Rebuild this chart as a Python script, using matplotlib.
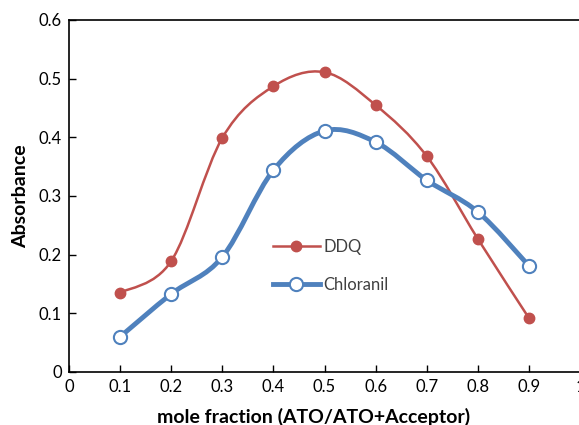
import numpy as np
import matplotlib
matplotlib.use("Agg")
import matplotlib.pyplot as plt
from matplotlib.path import Path
from matplotlib.patches import PathPatch
from matplotlib.lines import Line2D

mole_fraction = [0.1, 0.2, 0.3, 0.4, 0.5, 0.6, 0.7, 0.8, 0.9]
ddq = [0.135, 0.189, 0.399, 0.487, 0.511, 0.455, 0.368, 0.227, 0.092]
chloranil = [0.060, 0.133, 0.196, 0.344, 0.411, 0.392, 0.327, 0.273, 0.181]

plt.rcParams['font.family'] = ['Lato', 'DejaVu Sans']


def smooth_path(xs, ys):
    # Excel-style smoothed line: cubic Bezier through every point
    p = np.column_stack([xs, ys])
    ext = np.vstack([p[0], p, p[-1]])
    verts = [tuple(p[0])]
    codes = [Path.MOVETO]
    for i in range(1, len(ext) - 2):
        c1 = ext[i] + (ext[i + 1] - ext[i - 1]) / 6
        c2 = ext[i + 1] - (ext[i + 2] - ext[i]) / 6
        verts += [tuple(c1), tuple(c2), tuple(ext[i + 1])]
        codes += [Path.CURVE4] * 3
    return Path(verts, codes)


fig = plt.figure(figsize=(5.79, 4.25), dpi=100)
ax = fig.add_axes([69 / 579, 53 / 425, 511 / 579, 352 / 425])

red = '#C0504D'
blue = '#4F81BD'

ax.add_patch(PathPatch(smooth_path(mole_fraction, ddq), fill=False,
                       edgecolor=red, lw=1.8, zorder=2))
ax.plot(mole_fraction, ddq, ls='none', marker='o', ms=7.5,
        color=red, zorder=3)

ax.add_patch(PathPatch(smooth_path(mole_fraction, chloranil), fill=False,
                       edgecolor=blue, lw=3.5, zorder=2))
ax.plot(mole_fraction, chloranil, ls='none', marker='o', ms=9.5,
        mfc='white', mec=blue, mew=1.5, zorder=3)

ax.set_xlim(0, 1)
ax.set_ylim(0, 0.6)
ax.set_xticks(np.arange(0, 1.01, 0.1))
ax.set_xticklabels(['0', '0.1', '0.2', '0.3', '0.4', '0.5', '0.6', '0.7', '0.8', '0.9', '1'])
ax.set_yticks(np.arange(0, 0.61, 0.1))
ax.set_yticklabels(['0', '0.1', '0.2', '0.3', '0.4', '0.5', '0.6'])
ax.tick_params(direction='in', length=5, width=1, labelsize=12, pad=5)
ax.spines['right'].set_visible(False)
for s in ['left', 'bottom', 'top']:
    ax.spines[s].set_linewidth(1.2)

ax.set_xlabel('mole fraction (ATO/ATO+Acceptor)', fontsize=14, fontweight='bold', labelpad=9)
ax.xaxis.label.set_x(0.478)
ax.set_ylabel('Absorbance', fontsize=14, fontweight='bold', labelpad=7)

handles = [
    Line2D([], [], color=red, lw=1.8, marker='o', ms=7.5),
    Line2D([], [], color=blue, lw=3.5, marker='o', ms=9.5, mfc='white', mec=blue, mew=1.5),
]
ax.legend(handles, ['DDQ', 'Chloranil'], loc='upper left', bbox_to_anchor=(0.37, 0.42),
          frameon=False, fontsize=12, labelcolor='#404040', handlelength=2.8,
          handletextpad=0.2, labelspacing=1.3)

fig.savefig('out.png', dpi=100)
